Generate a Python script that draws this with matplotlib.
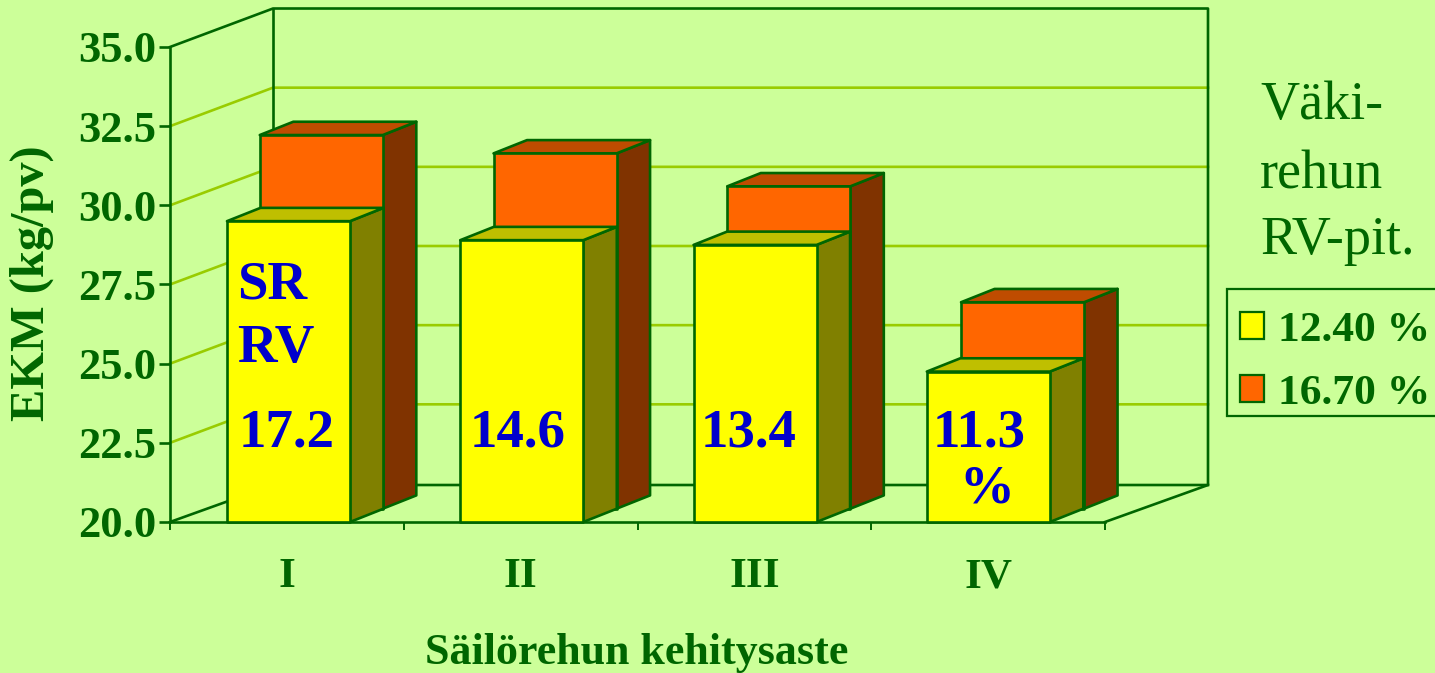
#!/usr/bin/env python3
# -*- coding: utf-8 -*-
import matplotlib
matplotlib.use('Agg')
import matplotlib.pyplot as plt
from matplotlib.patches import Polygon, Rectangle

categories = ['I', 'II', 'III', 'IV']
low_rv = [29.5, 28.9, 28.75, 24.75]      # 12.40 %
high_rv = [31.8, 31.22, 30.18, 26.52]    # 16.70 %
sr_rv = ['17.2', '14.6', '13.4', '11.3']
yticks = [20.0, 22.5, 25.0, 27.5, 30.0, 32.5, 35.0]
side_text = ['Väki-', 'rehun', 'RV-pit.']
legend_labels = ['12.40 %', '16.70 %']
legend_colors = ['#FFFF00', '#FF6600']

W, H = 1435, 673
BG = '#CCFF99'
DARK = '#006600'
GRID = '#99CC00'
BLUE = '#0000CC'
SERIF = 'Liberation Serif'
LW = 1.9

# fake 3d depth, data units per pixel
PX = 1 / 233.75
PY = 1 / 31.67
DX = 103 * PX
DY = 38.5 * PY
DY_FLOOR = 37 * PY
BAR_W = 123 * PX
BAR_L = 57 * PX
LAYER_X = 33.5 * PX
LAYER_Y = 13.3 * PY


def box(ax, x0, top, layer, front, roof, side, z):
    fx, fy = layer * LAYER_X, layer * LAYER_Y
    x0 = x0 + fx
    x1 = x0 + BAR_W
    ybot = 20.0 + fy
    ytop = top + fy
    kw = dict(edgecolor=DARK, lw=LW, clip_on=False, zorder=z, joinstyle='round')
    ax.add_patch(Polygon([(x1, ybot), (x1 + LAYER_X, ybot + LAYER_Y), (x1 + LAYER_X, ytop + LAYER_Y), (x1, ytop)], facecolor=side, **kw))
    ax.add_patch(Polygon([(x0, ytop), (x0 + LAYER_X, ytop + LAYER_Y), (x1 + LAYER_X, ytop + LAYER_Y), (x1, ytop)], facecolor=roof, **kw))
    ax.add_patch(Polygon([(x0, ybot), (x1, ybot), (x1, ytop), (x0, ytop)], facecolor=front, **kw))


fig = plt.figure(figsize=(W / 100, H / 100), dpi=100, facecolor=BG)
ax = fig.add_axes([170 / W, (H - 522) / H, 935 / W, 475 / H])
ax.set_facecolor('none')
ax.set_xlim(0, 4)
ax.set_ylim(20, 35)

for s in ['top', 'right']:
    ax.spines[s].set_visible(False)
for s in ['left', 'bottom']:
    ax.spines[s].set_color(DARK)
    ax.spines[s].set_linewidth(LW)

ax.set_yticks(yticks)
ax.set_yticklabels(['%.1f' % v for v in yticks], fontfamily=SERIF, fontweight='bold', fontsize=32, color=DARK)
ax.tick_params(axis='y', length=8, width=LW, color=DARK, pad=2)
ax.set_xticks(range(5))
ax.set_xticklabels([])
ax.tick_params(axis='x', which='major', length=6, width=1.4, color=DARK)
ax.set_xticks([i + 0.5 for i in range(4)], minor=True)
ax.set_xticklabels(categories, minor=True, fontfamily=SERIF, fontweight='bold', fontsize=31, color=DARK)
ax.tick_params(axis='x', which='minor', length=0, pad=26)

# walls and floor
wall = dict(color=DARK, lw=LW, clip_on=False, zorder=1)
for v in yticks[1:-1]:
    ax.plot([0, DX, 4 + DX], [v, v + DY, v + DY], color=GRID, lw=LW, clip_on=False, zorder=1)
ax.plot([0, DX, 4 + DX, 4 + DX, 4], [35, 35 + DY, 35 + DY, 20 + DY_FLOOR, 20], **wall)
ax.plot([DX, DX], [20 + DY_FLOOR, 35 + DY], **wall)
ax.plot([0, DX, 4 + DX], [20, 20 + DY_FLOOR, 20 + DY_FLOOR], **wall)

for i in range(4):
    box(ax, i - 0.003 + BAR_L, high_rv[i], 1, '#FF6600', '#BF4C00', '#803300', 3)
    box(ax, i * 0.998 + BAR_L, low_rv[i], 0, '#FFFF00', '#BFBF00', '#808000', 4)

lab = dict(fontfamily=SERIF, fontweight='bold', fontsize=39.5, color=BLUE, zorder=6, va='center')
for i, t in enumerate(sr_rv):
    ax.text(i * 0.988 + 0.498, 20 + (522 - 433) * PY, t, ha='center', **lab)
ax.text(0.287, 20 + (522 - 285) * PY, 'SR', ha='left', **lab)
ax.text(0.287, 20 + (522 - 349) * PY, 'RV', ha='left', **lab)
ax.text(3.496, 20 + (522 - 489) * PY, '%', ha='center', **lab)

fig.text(32 / W, 1 - 283 / H, 'EKM (kg/pv)', rotation=90, ha='center', va='center',
         fontfamily=SERIF, fontweight='bold', fontsize=34.8, color=DARK)
fig.text(637 / W, 1 - 653 / H, 'Säilörehun kehitysaste', ha='center', va='center',
         fontfamily=SERIF, fontweight='bold', fontsize=31.7, color=DARK)

for t, y in zip(side_text, [106, 175, 241]):
    fig.text(1260 / W, 1 - y / H, t, ha='left', va='center', fontfamily=SERIF, fontsize=39, color=DARK)

# legend box runs off the right edge like in the original
fig.add_artist(Rectangle((1227 / W, 1 - 416 / H), 230 / W, 127 / H, transform=fig.transFigure,
                         facecolor=BG, edgecolor=DARK, lw=LW * 0.85))
for lbl, col, y0, base in zip(legend_labels, legend_colors, [312, 375], [341, 404]):
    fig.add_artist(Rectangle((1239.5 / W, 1 - (y0 + 26.5) / H), 24.5 / W, 26.5 / H, transform=fig.transFigure,
                             facecolor=col, edgecolor=DARK, lw=LW * 0.85))
    fig.text(1278 / W, 1 - base / H, lbl, ha='left', va='baseline', fontfamily=SERIF, fontweight='bold',
             fontsize=31.3, color=DARK)

fig.savefig('out.png', dpi=100, facecolor=BG)
